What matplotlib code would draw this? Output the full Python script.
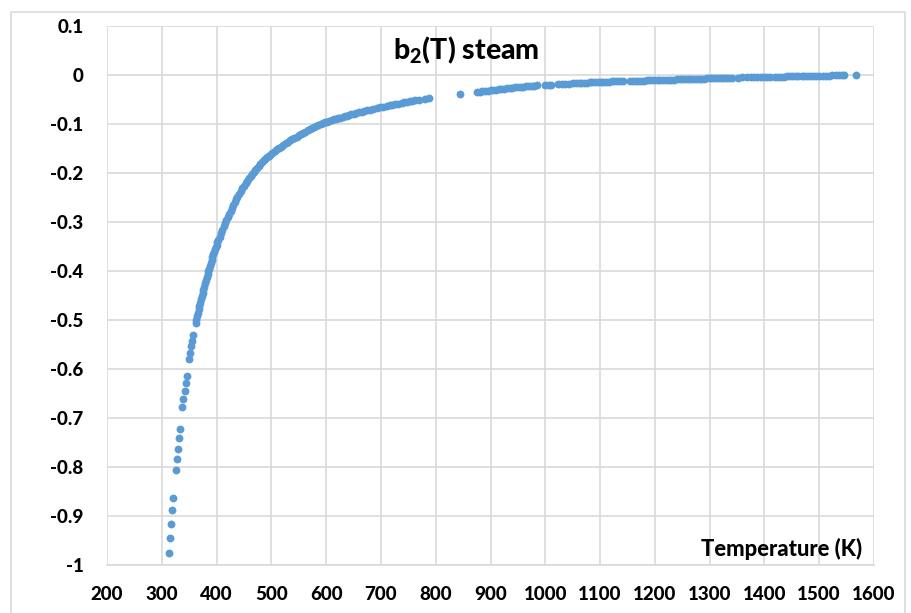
import matplotlib
matplotlib.use("Agg")
import matplotlib.pyplot as plt
from matplotlib.lines import Line2D

plt.rcParams['font.family'] = ['Lato', 'DejaVu Sans']
plt.rcParams['mathtext.fontset'] = 'custom'
plt.rcParams['mathtext.rm'] = 'Lato'
plt.rcParams['mathtext.bf'] = 'Lato:black'

# b2(T) of steam, temperature in K
t_low = [313.1, 315.0, 316.8, 319.2, 320.4, 325.4, 327.2, 329.6, 331.9, 333.2,
         337.4, 339.2, 341.8, 344.2, 346.0, 350.2, 352.0, 353.8, 355.7, 357.5]
b_low = [-0.976, -0.944, -0.916, -0.888, -0.863, -0.807, -0.784, -0.763, -0.741, -0.722,
         -0.678, -0.662, -0.645, -0.629, -0.614, -0.580, -0.568, -0.554, -0.542, -0.531]

t_knee = [361.7, 363.0, 364.4, 365.8, 367.2, 368.6, 370.0, 371.5, 373.0, 374.5,
          376.0, 377.5, 379.0, 380.5, 382.0, 383.5, 385.0, 386.5, 388.0, 389.5,
          391.0, 392.5, 394.0, 395.5, 397.0, 398.5, 400.0, 401.5, 403.0,
          405.5, 408, 410.5, 413, 415.5, 418, 420.5, 423, 425.5, 428,
          430.5, 433, 435.5, 438, 441, 444, 447, 450, 453, 456,
          459, 462, 465, 468, 471, 474, 477, 480, 483, 486,
          489, 492, 495, 498]
b_knee = [-0.506, -0.500, -0.492, -0.485, -0.478, -0.471, -0.465, -0.458, -0.451, -0.445,
          -0.438, -0.432, -0.425, -0.418, -0.412, -0.406, -0.400, -0.395, -0.390, -0.384,
          -0.378, -0.372, -0.366, -0.361, -0.356, -0.351, -0.346, -0.341, -0.337,
          -0.330, -0.323, -0.316, -0.309, -0.302, -0.295, -0.289, -0.283, -0.277, -0.271,
          -0.265, -0.260, -0.254, -0.249, -0.243, -0.237, -0.231, -0.226, -0.221, -0.216,
          -0.211, -0.206, -0.202, -0.197, -0.193, -0.189, -0.185, -0.181, -0.178, -0.174,
          -0.171, -0.168, -0.165, -0.163]

t_mid = [502, 506, 510, 514, 518, 522, 526, 530, 534, 538, 542, 546, 550, 554, 558,
         562, 566, 570, 574, 578, 582, 586, 590, 594, 598, 602, 606, 610, 614, 618,
         622, 626, 630, 634, 638, 642, 646, 650, 655, 660, 665, 670, 675, 680, 685,
         693, 698, 703, 711, 716, 721, 726, 731, 738, 743, 748, 753, 757, 763, 769,
         781, 788, 844]
b_mid = [-0.159, -0.156, -0.152, -0.149, -0.146, -0.143, -0.139, -0.136, -0.133, -0.131,
         -0.128, -0.126, -0.123, -0.121, -0.118, -0.116, -0.113, -0.111, -0.108, -0.106,
         -0.104, -0.102, -0.100, -0.098, -0.096, -0.095, -0.093, -0.092, -0.090, -0.089,
         -0.088, -0.087, -0.085, -0.084, -0.083, -0.081, -0.080, -0.079, -0.078, -0.076,
         -0.075, -0.073, -0.072, -0.071, -0.069,
         -0.067, -0.066, -0.065, -0.063, -0.062, -0.061, -0.060, -0.059, -0.057, -0.056,
         -0.055, -0.054, -0.053, -0.052, -0.051, -0.048, -0.047, -0.038]

t_high = [875, 880, 885, 890, 895, 900, 905, 910, 915, 920, 925, 930, 935, 940, 945,
          950, 955, 960, 965, 970, 975, 980, 985,
          1000, 1006, 1011, 1024, 1030, 1036, 1043,
          1051, 1056, 1061, 1066, 1071, 1076, 1081, 1086, 1091, 1096, 1101, 1106, 1111,
          1116, 1121, 1126, 1131, 1136, 1141]
b_high = [-0.035, -0.034, -0.033, -0.033, -0.032, -0.031, -0.031, -0.030, -0.029, -0.028,
          -0.028, -0.027, -0.026, -0.026, -0.025, -0.025, -0.024, -0.024, -0.023, -0.023,
          -0.022, -0.022, -0.021,
          -0.020, -0.020, -0.0195, -0.019, -0.0185, -0.018, -0.0175,
          -0.017, -0.0168, -0.0165, -0.0162, -0.016, -0.0157, -0.0153, -0.015, -0.0147,
          -0.0143, -0.014, -0.0138, -0.0136, -0.0134, -0.0132, -0.013, -0.0128, -0.0126,
          -0.0124]

t_top = [1155, 1160, 1165, 1170, 1175, 1180, 1185, 1190, 1195, 1200, 1205, 1210, 1215,
         1220, 1225, 1230, 1235, 1240, 1245, 1250, 1255, 1260, 1265, 1270, 1275, 1280,
         1285, 1290, 1295, 1300, 1305, 1310, 1315, 1320, 1325, 1330, 1335, 1340,
         1351, 1359, 1369, 1375, 1381, 1387, 1393, 1399, 1405, 1411,
         1420, 1425, 1430, 1436, 1441, 1446, 1452, 1457, 1462, 1468, 1473, 1478, 1484, 1488,
         1495, 1500, 1506, 1512, 1518, 1524, 1530, 1536, 1541, 1546, 1567]
b_top = [-0.0122, -0.012, -0.0118, -0.0117, -0.0115, -0.0113, -0.0111, -0.011, -0.0108,
         -0.0106, -0.0104, -0.0102, -0.0100, -0.0098, -0.0097, -0.0095, -0.0093, -0.0091,
         -0.0089, -0.0087, -0.0086, -0.0084, -0.0082, -0.008, -0.0078, -0.0077, -0.0075,
         -0.0073, -0.0071, -0.007, -0.0068, -0.0066, -0.0064, -0.0063, -0.0061, -0.0059,
         -0.0058, -0.0056,
         -0.0053, -0.0051, -0.005, -0.0048, -0.0046, -0.0045, -0.0043, -0.0041, -0.004, -0.0038,
         -0.0036, -0.0035, -0.0033, -0.0032, -0.003, -0.0029, -0.0027, -0.0026, -0.0024,
         -0.0023, -0.0021, -0.002, -0.0018, -0.0017,
         -0.0015, -0.0014, -0.0013, -0.0012, -0.0011, -0.001, -0.0009, -0.0008, -0.0007,
         -0.0006, -0.0001]

temps = t_low + t_knee + t_mid + t_high + t_top
b2 = b_low + b_knee + b_mid + b_high + b_top

x_ticks = list(range(200, 1700, 100))
y_ticks = [0.1, 0, -0.1, -0.2, -0.3, -0.4, -0.5, -0.6, -0.7, -0.8, -0.9, -1]

fig = plt.figure(figsize=(9.12, 6.13), dpi=100)
ax = fig.add_axes([107/912, 1 - 565/613, (874 - 107)/912, (565 - 26)/613])

ax.scatter(temps, b2, s=32, color='#5B9BD5', linewidths=0, zorder=3)

ax.set_xlim(200, 1600)
ax.set_ylim(-1, 0.1)
ax.set_xticks(x_ticks)
ax.set_yticks(y_ticks)
ax.set_xticklabels([str(t) for t in x_ticks], fontweight='black', fontsize=13.5)
ax.set_yticklabels(['0' if v == 0 else f'{v:g}' for v in y_ticks], fontweight='black', fontsize=13.5)
ax.tick_params(axis='both', length=0, colors='black')
ax.tick_params(axis='x', pad=15)
ax.tick_params(axis='y', pad=17)
ax.grid(True, color='#D9D9D9', linewidth=1.2)
for side in ['top', 'right', 'left']:
    ax.spines[side].set_visible(False)
ax.spines['bottom'].set_color('#D9D9D9')
ax.spines['bottom'].set_linewidth(1.2)

ax.text(466/912, 1 - 50/613, r'b$_{\mathbf{2}}$(T) steam', transform=fig.transFigure,
        ha='center', va='center', fontsize=20.5, fontweight='black')
ax.text(862/912, 1 - 549/613, 'Temperature (K)', transform=fig.transFigure,
        ha='right', va='center', fontsize=15.8, fontweight='black')

# light frame round the chart area
frame_x = [11/912, 11/912, 905/912, 905/912]
frame_y = [0, 1 - 12/613, 1 - 12/613, 0]
fig.add_artist(Line2D(frame_x, frame_y, color='#D9D9D9', linewidth=1.2, transform=fig.transFigure))

fig.savefig('out.png', dpi=100, facecolor='white')
